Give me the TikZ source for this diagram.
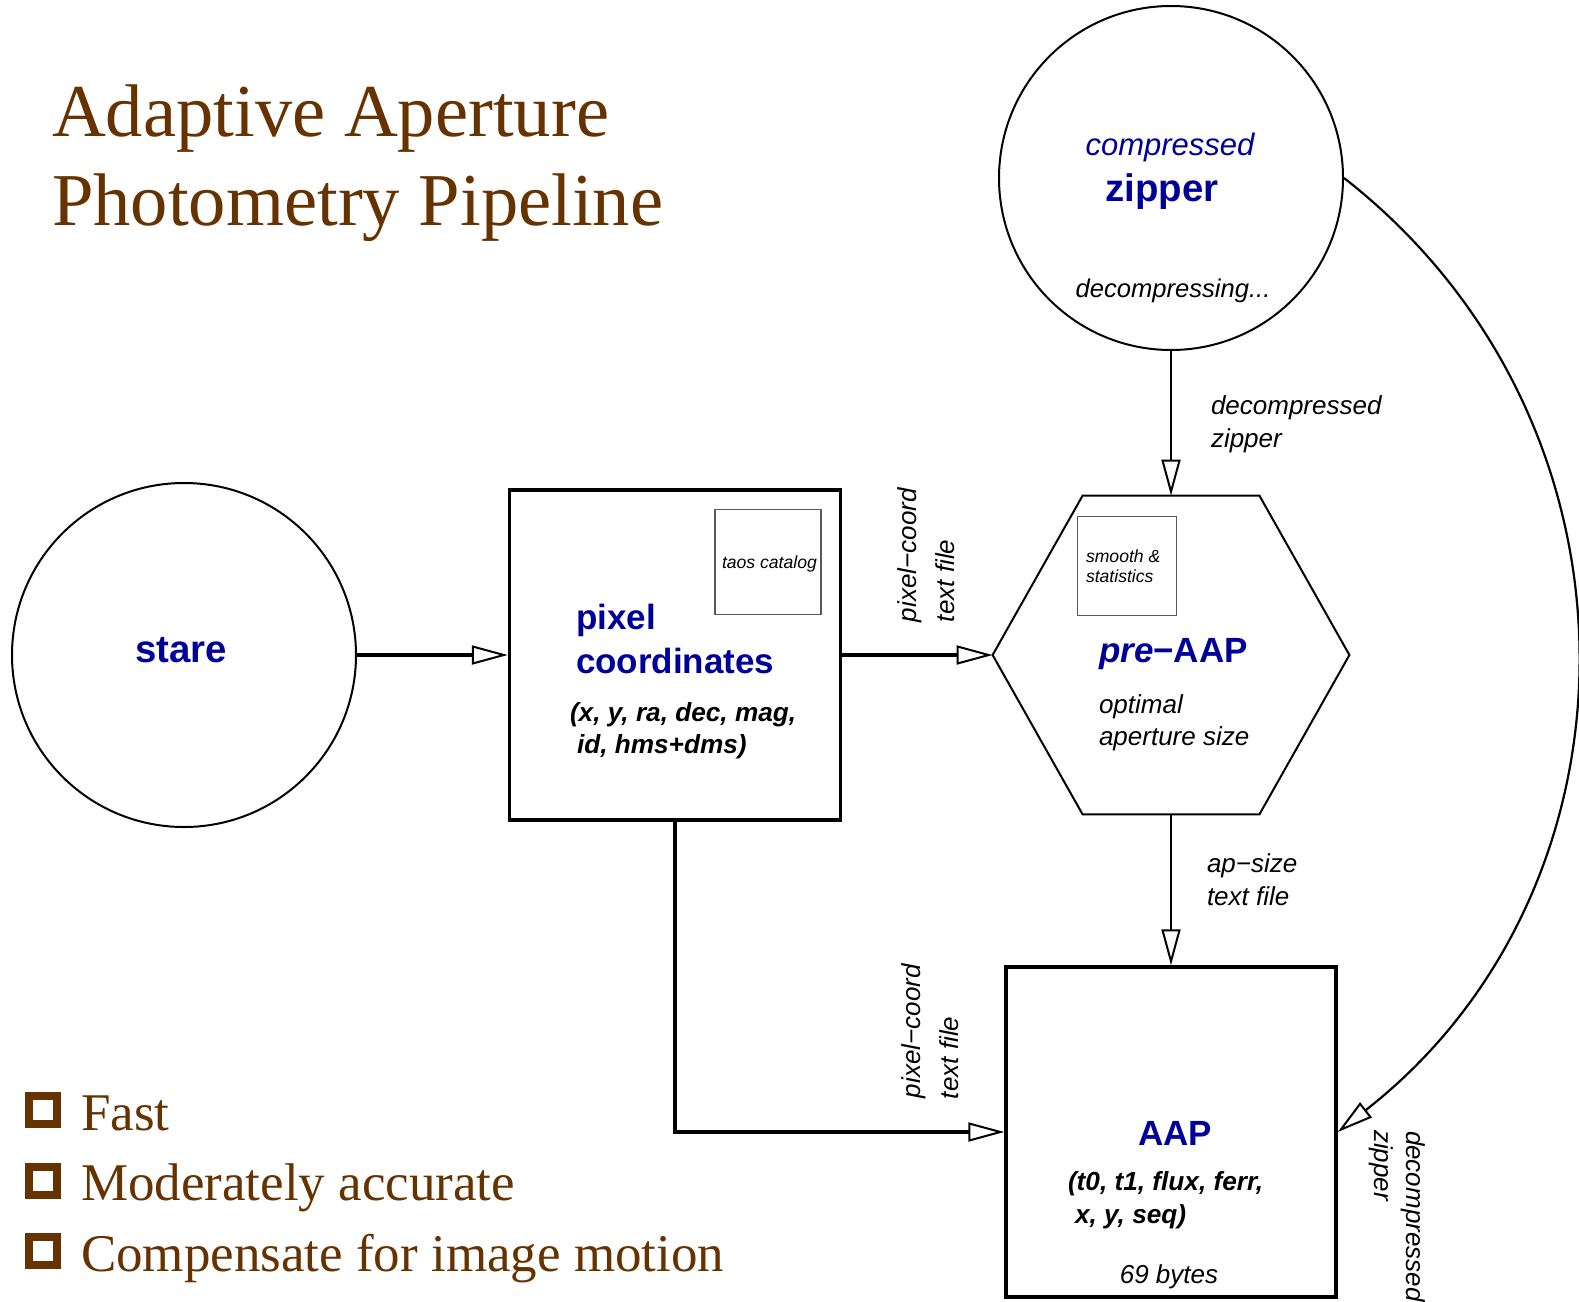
\documentclass[tikz,border=0pt]{standalone}
\usepackage{fontspec}
\setmainfont{Liberation Serif}
\setsansfont{Liberation Sans}
\usetikzlibrary{arrows.meta}
\definecolor{titlebrown}{HTML}{663300}
\definecolor{procblue}{HTML}{000099}

\begin{document}
\begin{tikzpicture}[x=0.5pt,y=-0.5pt,
  txt/.style={anchor=base west, inner sep=0pt, outer sep=0pt},
  ctxt/.style={anchor=base, inner sep=0pt, outer sep=0pt},
  titlefont/.style={font=\rmfamily\fontsize{37.3}{44}\selectfont, text=titlebrown},
  bulletfont/.style={font=\rmfamily\fontsize{26.5}{30}\selectfont, text=titlebrown},
  bulletbox/.style={draw=titlebrown, line width=4pt, minimum size=14pt, inner sep=0pt},
  bigname/.style={font=\sffamily\bfseries\fontsize{19.2}{22}\selectfont, text=procblue},
  procname/.style={font=\sffamily\bfseries\fontsize{17.5}{20}\selectfont, text=procblue},
  fields/.style={font=\sffamily\bfseries\itshape\fontsize{13.1}{15}\selectfont},
  lab/.style={font=\sffamily\itshape\fontsize{13}{15}\selectfont},
  smalllab/.style={font=\sffamily\itshape\fontsize{8.8}{10}\selectfont},
  bubble/.style={circle, draw, line width=1pt, minimum size=172pt, inner sep=0pt},
  procbox/.style={rectangle, draw, line width=1.7pt, inner sep=0pt},
  subbox/.style={rectangle, draw=black!65, line width=0.6pt, inner sep=0pt},
  flow/.style={line width=1.6pt, -{Triangle[length=18pt,width=9.5pt,fill=white,line width=1pt]}},
  flowthin/.style={line width=1.1pt, -{Triangle[length=18pt,width=9.5pt,fill=white,line width=1pt]}},
]
\useasboundingbox (0,0) rectangle (1579,1301);

% title and bullet list
\node[txt, titlefont] (title1) at (52,136) {Adaptive Aperture};
\node[txt, titlefont] (title2) at (52,225) {Photometry Pipeline};

\node[bulletbox] (bx1) at (43,1110) {};
\node[bulletbox] (bx2) at (43,1181) {};
\node[bulletbox] (bx3) at (43,1251) {};
\node[txt, bulletfont] (bt1) at (81,1130) {Fast};
\node[txt, bulletfont] (bt2) at (81,1200) {Moderately accurate};
\node[txt, bulletfont] (bt3) at (81,1271) {Compensate for image motion};

% process shapes
\node[bubble] (stare) at (184,655) {};
\node[bubble] (zip) at (1171,178) {};
\node[procbox, minimum width=165.5pt, minimum height=165pt] (pix) at (675,655) {};
\node[procbox, minimum width=165pt, minimum height=165pt] (aap) at (1171,1132) {};
\node[inner sep=0pt, minimum width=178pt, minimum height=159pt] (pre) at (1171,655) {};
\draw[line width=1pt] (pre.west) -- ([xshift=45pt]pre.north west)
  -- ([xshift=-45pt]pre.north east) -- (pre.east)
  -- ([xshift=-45pt]pre.south east) -- ([xshift=45pt]pre.south west) -- cycle;

\node[subbox, minimum width=53pt, minimum height=52.5pt] (cat) at (768,562) {};
\node[subbox, minimum width=49.5pt, minimum height=49.5pt] (stat) at (1127,566) {};

% texts inside the shapes
\node[ctxt, bigname] (stareT) at (181,662) {stare};

\node[ctxt, font=\sffamily\itshape\fontsize{15.5}{18}\selectfont, text=procblue] (zipA) at (1170,155) {compressed};
\node[ctxt, bigname] (zipB) at (1162,201) {zipper};
\node[ctxt, font=\sffamily\itshape\fontsize{12.8}{15}\selectfont] (zipC) at (1173,297) {decompressing...};

\node[txt, smalllab] (catT) at (722,568) {taos catalog};
\node[txt, procname] (pixA) at (576,629) {pixel};
\node[txt, procname] (pixB) at (576,673) {coordinates};
\node[txt, fields] (pixC) at (570,721) {(x, y, ra, dec, mag,};
\node[txt, fields] (pixD) at (577,753) {id, hms+dms)};

\node[txt, smalllab] (statA) at (1086,562) {smooth \&};
\node[txt, smalllab] (statB) at (1086,582) {statistics};
\node[txt, procname] (preA) at (1099,662) {\textit{pre}−AAP};
\node[txt, lab] (preB) at (1099,713) {optimal};
\node[txt, lab] (preC) at (1099,745) {aperture size};

\node[ctxt, procname] (aapA) at (1175,1145) {AAP};
\node[txt, fields] (aapB) at (1068,1190) {(t0, t1, flux, ferr,};
\node[txt, fields] (aapC) at (1075,1223) {x, y, seq)};
\node[ctxt, lab] (aapD) at (1169,1283) {69 bytes};

% connectors
\draw[flow] (stare.east) -- (pix.west);
\draw[flow] (pix.east) -- (pre.west);
\draw[flowthin] (zip.south) -- (pre.north);
\draw[flowthin] (pre.south) -- (aap.north);
\draw[flow] (pix.south) |- (aap.west);
\draw[flowthin] (zip.east) .. controls +(-38:199pt) and +(38:199pt) .. (aap.east);

% connector labels
\node[txt, lab] (l1a) at (1211,414) {decompressed};
\node[txt, lab] (l1b) at (1211,447) {zipper};
\node[txt, lab] (l2a) at (1207,872) {ap−size};
\node[txt, lab] (l2b) at (1207,905) {text file};
\node[txt, lab, rotate=90] (l3a) at (916,622) {pixel−coord};
\node[txt, lab, rotate=90] (l3b) at (954,622) {text file};
\node[txt, lab, rotate=90] (l4a) at (920,1098) {pixel−coord};
\node[txt, lab, rotate=90] (l4b) at (958,1099) {text file};
\node[txt, lab, rotate=-90] (l5a) at (1406,1131) {decompressed};
\node[txt, lab, rotate=-90] (l5b) at (1374,1130) {zipper};
\end{tikzpicture}
\end{document}
